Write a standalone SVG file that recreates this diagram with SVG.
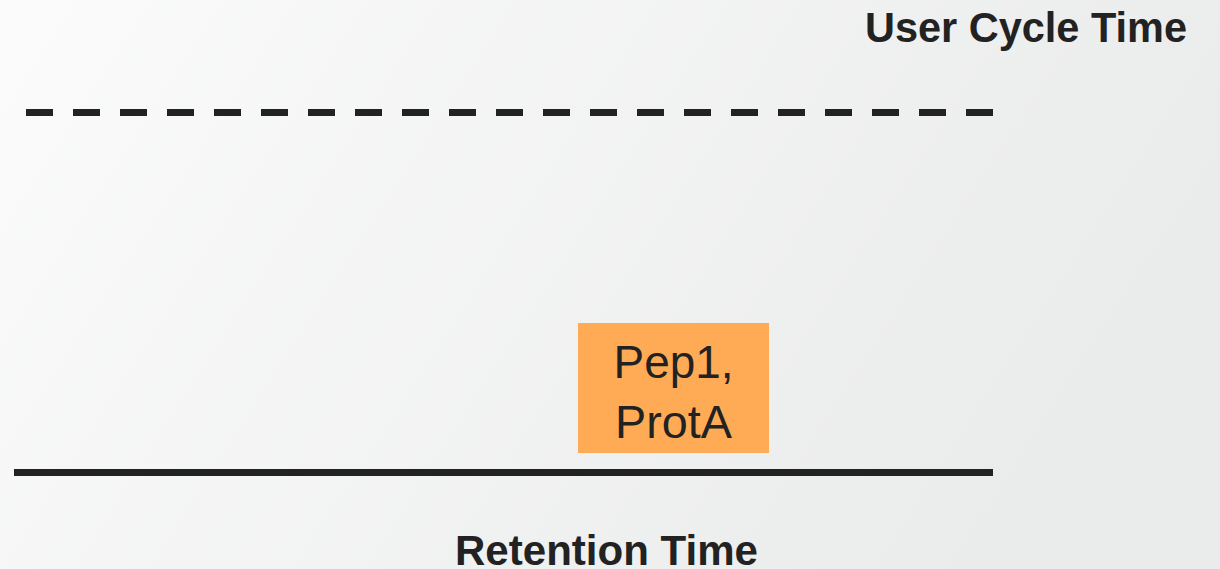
<svg xmlns="http://www.w3.org/2000/svg" width="1220" height="569" viewBox="0 0 1220 569">
  <defs>
    <linearGradient id="bg" x1="0" y1="0" x2="1" y2="0.3">
      <stop offset="0" stop-color="#fbfbfb"/>
      <stop offset="1" stop-color="#eaebeb"/>
    </linearGradient>
    <style>
      .axis-label { font-family: "Liberation Sans", Arial, sans-serif; font-weight: bold; fill: #222222; text-anchor: middle; }
      .node-label { font-family: "Liberation Sans", Arial, sans-serif; fill: #222222; text-anchor: middle; }
      .line { stroke: #222222; stroke-width: 7; fill: none; }
    </style>
  </defs>

  <rect x="0" y="0" width="1220" height="569" fill="url(#bg)"/>

  <!-- axes -->
  <g id="connectors">
    <line class="line" x1="26" y1="112.5" x2="994" y2="112.5" stroke-dasharray="27 20"/>
    <line class="line" x1="14" y1="472.5" x2="993" y2="472.5"/>
  </g>

  <g id="label-user-cycle">
    <text class="axis-label" x="1026" y="42" font-size="42" textLength="322" lengthAdjust="spacingAndGlyphs">User Cycle Time</text>
  </g>

  <g id="label-retention">
    <text class="axis-label" x="606.5" y="565" font-size="42" textLength="303" lengthAdjust="spacingAndGlyphs">Retention Time</text>
  </g>

  <g id="node-pep1">
    <rect x="578" y="323" width="191" height="130" fill="#ffab55"/>
    <text class="node-label" x="673.5" y="378" font-size="46" textLength="120" lengthAdjust="spacingAndGlyphs">Pep1,</text>
    <text class="node-label" x="673.5" y="438" font-size="46" textLength="117" lengthAdjust="spacingAndGlyphs">ProtA</text>
  </g>
</svg>
